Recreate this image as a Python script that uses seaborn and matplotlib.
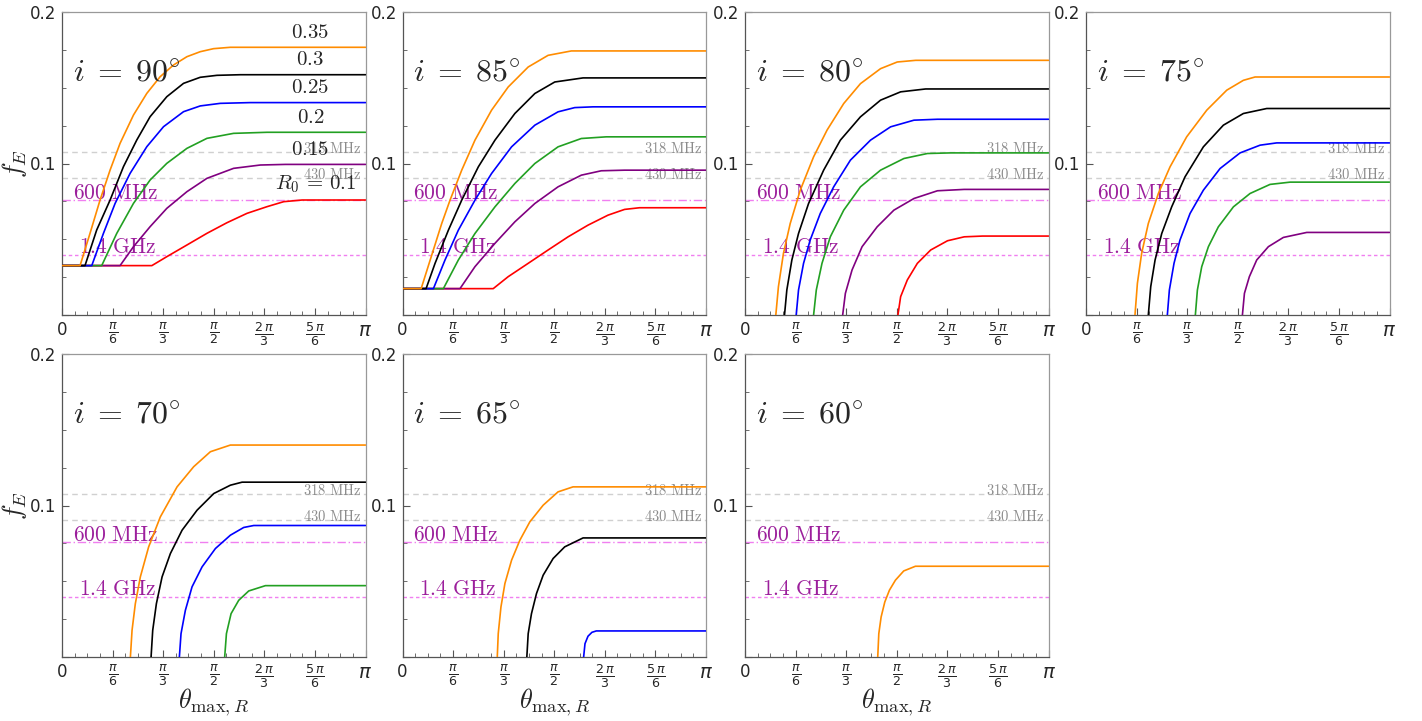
import numpy as np
import matplotlib
matplotlib.use('Agg')
import matplotlib.pyplot as plt
import seaborn as sns

PI = np.pi

inclinations = [90, 85, 80, 75, 70, 65, 60]
R0_values = [0.1, 0.15, 0.2, 0.25, 0.3, 0.35]
R0_labels = [r'$R_0\,=\,0.1$', r'$0.15$', r'$0.2$', r'$0.25$', r'$0.3$', r'$0.35$']
R0_colors = ['red', 'purple', '#22a022', 'blue', 'black', 'darkorange']

freq_names = ['318 MHz', '430 MHz', '600 MHz', '1.4 GHz']
freq_fE = [0.1075, 0.0901, 0.0759, 0.0396]

xtick_vals = [0, PI / 6, PI / 3, PI / 2, 2 * PI / 3, 5 * PI / 6, PI]
xtick_labels = ['0', r'$\frac{\pi}{6}$', r'$\frac{\pi}{3}$', r'$\frac{\pi}{2}$',
                r'$\frac{2\,\pi}{3}$', r'$\frac{5\,\pi}{6}$', r'$\pi$']

# ---- i = 90 ----
i90_r10_t = [0, 0.930, 1.085, 1.293, 1.500, 1.707, 1.915, 2.122, 2.295, 2.485, PI]
i90_r10_f = [0.0326, 0.0326, 0.0385, 0.0462, 0.0539, 0.0609, 0.0671, 0.0715, 0.0748, 0.0759, 0.0759]
i90_r15_t = [0, 0.601, 0.740, 0.912, 1.085, 1.293, 1.500, 1.776, 2.053, 2.312, PI]
i90_r15_f = [0.0326, 0.0326, 0.0451, 0.0583, 0.0704, 0.0814, 0.0902, 0.0968, 0.0990, 0.0994, 0.0994]
i90_r20_t = [0, 0.411, 0.567, 0.740, 0.912, 1.085, 1.293, 1.500, 1.776, 2.122, PI]
i90_r20_f = [0.0326, 0.0326, 0.0539, 0.0737, 0.0891, 0.1001, 0.1100, 0.1166, 0.1199, 0.1206, 0.1206]
i90_r25_t = [0, 0.308, 0.429, 0.550, 0.705, 0.878, 1.051, 1.258, 1.431, 1.638, 1.949, PI]
i90_r25_f = [0.0326, 0.0326, 0.0539, 0.0737, 0.0935, 0.1111, 0.1243, 0.1342, 0.1380, 0.1397, 0.1402, 0.1402]
i90_r30_t = [0, 0.238, 0.359, 0.498, 0.636, 0.774, 0.912, 1.085, 1.258, 1.431, 1.604, 1.846, PI]
i90_r30_f = [0.0326, 0.0326, 0.0561, 0.0759, 0.0979, 0.1155, 0.1309, 0.1441, 0.1529, 0.1569, 0.1582, 0.1586, 0.1586]
i90_r35_t = [0, 0.187, 0.290, 0.394, 0.498, 0.601, 0.740, 0.878, 1.016, 1.154, 1.293, 1.431, 1.569, 1.742, PI]
i90_r35_f = [0.0326, 0.0326, 0.0539, 0.0759, 0.0957, 0.1133, 0.1320, 0.1463, 0.1573, 0.1650, 0.1705, 0.1738, 0.1758, 0.1767, 0.1767]

# ---- i = 85 ----
i85_r10_t = [0, 0.939, 1.094, 1.301, 1.507, 1.714, 1.920, 2.127, 2.299, 2.454, PI]
i85_r10_f = [0.0174, 0.0174, 0.0253, 0.0341, 0.0429, 0.0516, 0.0593, 0.0659, 0.0697, 0.0708, 0.0708]
i85_r15_t = [0, 0.595, 0.750, 0.957, 1.163, 1.370, 1.610, 1.851, 2.058, 2.299, PI]
i85_r15_f = [0.0174, 0.0174, 0.0319, 0.0473, 0.0615, 0.0736, 0.0846, 0.0923, 0.0952, 0.0956, 0.0956]
i85_r20_t = [0, 0.423, 0.578, 0.750, 0.957, 1.163, 1.370, 1.610, 1.851, 2.109, PI]
i85_r20_f = [0.0174, 0.0174, 0.0363, 0.0538, 0.0714, 0.0868, 0.1000, 0.1110, 0.1165, 0.1176, 0.1176]
i85_r25_t = [0, 0.320, 0.440, 0.578, 0.750, 0.922, 1.129, 1.370, 1.610, 1.783, 1.972, PI]
i85_r25_f = [0.0174, 0.0174, 0.0363, 0.0560, 0.0758, 0.0934, 0.1110, 0.1253, 0.1341, 0.1369, 0.1374, 0.1374]
i85_r30_t = [0, 0.244, 0.337, 0.475, 0.613, 0.785, 0.957, 1.163, 1.370, 1.576, 1.869, PI]
i85_r30_f = [0.0174, 0.0174, 0.0341, 0.0560, 0.0758, 0.0978, 0.1154, 0.1330, 0.1462, 0.1538, 0.1565, 0.1565]
i85_r35_t = [0, 0.193, 0.303, 0.406, 0.492, 0.613, 0.750, 0.922, 1.094, 1.301, 1.507, 1.748, PI]
i85_r35_f = [0.0174, 0.0174, 0.0396, 0.0604, 0.0758, 0.0956, 0.1154, 0.1352, 0.1505, 0.1637, 0.1714, 0.1743, 0.1743]

# ---- i = 80 ----
i80_r10_t = [1.583, 1.611, 1.680, 1.784, 1.922, 2.096, 2.269, 2.459, PI]
i80_r10_f = [0, 0.0121, 0.0231, 0.0341, 0.0429, 0.0490, 0.0516, 0.0521, 0.0521]
i80_r15_t = [1.011, 1.039, 1.108, 1.212, 1.368, 1.541, 1.749, 1.992, 2.269, PI]
i80_r15_f = [0, 0.0143, 0.0297, 0.0451, 0.0582, 0.0692, 0.0769, 0.0820, 0.0829, 0.0829]
i80_r20_t = [0.710, 0.738, 0.797, 0.883, 1.022, 1.195, 1.403, 1.645, 1.888, 2.130, PI]
i80_r20_f = [0, 0.0165, 0.0341, 0.0516, 0.0692, 0.0846, 0.0956, 0.1033, 0.1066, 0.1070, 0.1070]
i80_r25_t = [0.530, 0.554, 0.606, 0.675, 0.779, 0.918, 1.091, 1.299, 1.507, 1.749, 1.992, PI]
i80_r25_f = [0, 0.0165, 0.0341, 0.0495, 0.0670, 0.0846, 0.1022, 0.1154, 0.1242, 0.1286, 0.1292, 0.1292]
i80_r30_t = [0.409, 0.433, 0.485, 0.554, 0.658, 0.814, 0.987, 1.195, 1.403, 1.611, 1.870, PI]
i80_r30_f = [0, 0.0165, 0.0363, 0.0538, 0.0736, 0.0956, 0.1154, 0.1308, 0.1418, 0.1473, 0.1492, 0.1492]
i80_r35_t = [0.319, 0.346, 0.398, 0.468, 0.572, 0.710, 0.849, 1.022, 1.195, 1.403, 1.576, 1.767, PI]
i80_r35_f = [0, 0.0187, 0.0407, 0.0604, 0.0824, 0.1044, 0.1220, 0.1396, 0.1527, 0.1626, 0.1670, 0.1681, 0.1681]

# ---- i = 75 ----
i75_r15_t = [1.619, 1.640, 1.691, 1.767, 1.888, 2.043, 2.285, PI]
i75_r15_f = [0, 0.0143, 0.0253, 0.0363, 0.0451, 0.0512, 0.0545, 0.0545]
i75_r20_t = [1.132, 1.153, 1.198, 1.267, 1.370, 1.526, 1.698, 1.905, 2.113, PI]
i75_r20_f = [0, 0.0165, 0.0319, 0.0451, 0.0582, 0.0714, 0.0802, 0.0862, 0.0877, 0.0877]
i75_r25_t = [0.842, 0.863, 0.911, 0.973, 1.077, 1.215, 1.388, 1.595, 1.802, 1.974, PI]
i75_r25_f = [0, 0.0165, 0.0341, 0.0495, 0.0670, 0.0824, 0.0967, 0.1070, 0.1121, 0.1136, 0.1136]
i75_r30_t = [0.645, 0.670, 0.715, 0.784, 0.887, 1.025, 1.215, 1.422, 1.629, 1.871, PI]
i75_r30_f = [0, 0.0187, 0.0363, 0.0538, 0.0714, 0.0912, 0.1110, 0.1253, 0.1330, 0.1363, 0.1363]
i75_r35_t = [0.507, 0.532, 0.576, 0.645, 0.749, 0.870, 1.042, 1.250, 1.457, 1.629, 1.750, PI]
i75_r35_f = [0, 0.0209, 0.0407, 0.0604, 0.0802, 0.0978, 0.1176, 0.1352, 0.1484, 0.1549, 0.1571, 0.1571]

# ---- i = 70 ----
i70_r20_t = [1.684, 1.702, 1.750, 1.829, 1.933, 2.106, PI]
i70_r20_f = [0, 0.0154, 0.0286, 0.0374, 0.0436, 0.0471, 0.0471]
i70_r25_t = [1.215, 1.232, 1.277, 1.346, 1.450, 1.588, 1.743, 1.881, 1.985, PI]
i70_r25_f = [0, 0.0154, 0.0308, 0.0463, 0.0595, 0.0716, 0.0804, 0.0855, 0.0868, 0.0868]
i70_r30_t = [0.922, 0.939, 0.977, 1.036, 1.122, 1.243, 1.398, 1.571, 1.743, 1.864, PI]
i70_r30_f = [0, 0.0176, 0.0352, 0.0529, 0.0683, 0.0837, 0.0969, 0.1079, 0.1134, 0.1154, 0.1154]
i70_r35_t = [0.708, 0.725, 0.759, 0.811, 0.897, 1.018, 1.191, 1.363, 1.536, 1.743, PI]
i70_r35_f = [0, 0.0176, 0.0352, 0.0529, 0.0727, 0.0925, 0.1123, 0.1256, 0.1355, 0.1399, 0.1399]

# ---- i = 65 ----
i65_r25_t = [1.875, 1.889, 1.920, 1.961, 2.006, PI]
i65_r25_f = [0, 0.0088, 0.0137, 0.0163, 0.0172, 0.0172]
i65_r30_t = [1.287, 1.301, 1.335, 1.387, 1.456, 1.559, 1.679, 1.869, PI]
i65_r30_f = [0, 0.0154, 0.0286, 0.0419, 0.0540, 0.0650, 0.0727, 0.0786, 0.0786]
i65_r35_t = [0.981, 0.991, 1.019, 1.060, 1.129, 1.215, 1.318, 1.456, 1.610, 1.765, PI]
i65_r35_f = [0, 0.0154, 0.0330, 0.0485, 0.0639, 0.0771, 0.0892, 0.1002, 0.1090, 0.1123, 0.1123]

# ---- i = 60 ----
i60_r35_t = [1.374, 1.385, 1.409, 1.447, 1.495, 1.557, 1.643, 1.764, PI]
i60_r35_f = [0, 0.0154, 0.0264, 0.0363, 0.0441, 0.0507, 0.0568, 0.0599, 0.0599]

panel_curves = {
    90: {0.1: (i90_r10_t, i90_r10_f), 0.15: (i90_r15_t, i90_r15_f), 0.2: (i90_r20_t, i90_r20_f),
         0.25: (i90_r25_t, i90_r25_f), 0.3: (i90_r30_t, i90_r30_f), 0.35: (i90_r35_t, i90_r35_f)},
    85: {0.1: (i85_r10_t, i85_r10_f), 0.15: (i85_r15_t, i85_r15_f), 0.2: (i85_r20_t, i85_r20_f),
         0.25: (i85_r25_t, i85_r25_f), 0.3: (i85_r30_t, i85_r30_f), 0.35: (i85_r35_t, i85_r35_f)},
    80: {0.1: (i80_r10_t, i80_r10_f), 0.15: (i80_r15_t, i80_r15_f), 0.2: (i80_r20_t, i80_r20_f),
         0.25: (i80_r25_t, i80_r25_f), 0.3: (i80_r30_t, i80_r30_f), 0.35: (i80_r35_t, i80_r35_f)},
    75: {0.15: (i75_r15_t, i75_r15_f), 0.2: (i75_r20_t, i75_r20_f), 0.25: (i75_r25_t, i75_r25_f),
         0.3: (i75_r30_t, i75_r30_f), 0.35: (i75_r35_t, i75_r35_f)},
    70: {0.2: (i70_r20_t, i70_r20_f), 0.25: (i70_r25_t, i70_r25_f), 0.3: (i70_r30_t, i70_r30_f),
         0.35: (i70_r35_t, i70_r35_f)},
    65: {0.25: (i65_r25_t, i65_r25_f), 0.3: (i65_r30_t, i65_r30_f), 0.35: (i65_r35_t, i65_r35_f)},
    60: {0.35: (i60_r35_t, i60_r35_f)},
}

sns.set_style('ticks')
plt.rcParams['font.family'] = ['DejaVu Sans']
plt.rcParams['mathtext.fontset'] = 'cm'

fig = plt.figure(figsize=(14.22, 7.21), dpi=100)
W, H = 1422.0, 721.0
col_left = [62, 402.5, 745, 1086]
row_top = [12, 354]
ax_w, ax_h = 303.5, 303

freq_line_color = ['#d0d0d0', '#d0d0d0', '#f07ff0', '#f07ff0']
freq_line_style = [(0, (4, 3)), (0, (4, 3)), (0, (6, 2, 1, 2)), (0, (2.5, 2))]
gray_txt = '#8c8c8c'
mag = '#9c1f9c'

for k, inc in enumerate(inclinations):
    r, c = divmod(k, 4)
    ax = fig.add_axes([col_left[c] / W, 1 - (row_top[r] + ax_h) / H, ax_w / W, ax_h / H])
    # reference frequency lines
    for j in range(4):
        ax.axhline(freq_fE[j], color=freq_line_color[j], ls=freq_line_style[j], lw=1.0, zorder=1)
    ax.text(0.987, freq_fE[0] - 0.0005, r'$\mathrm{318\ MHz}$', transform=ax.get_yaxis_transform(),
            ha='right', va='baseline', color=gray_txt, fontsize=10.5)
    ax.text(0.987, freq_fE[1] - 0.0005, r'$\mathrm{430\ MHz}$', transform=ax.get_yaxis_transform(),
            ha='right', va='baseline', color=gray_txt, fontsize=10.5)
    ax.text(0.036, freq_fE[2] + 0.0008, r'$\mathrm{600\ MHz}$', transform=ax.get_yaxis_transform(),
            ha='left', va='baseline', color=mag, fontsize=15.5)
    ax.text(0.055, freq_fE[3] + 0.0012, r'$\mathrm{1.4\ GHz}$', transform=ax.get_yaxis_transform(),
            ha='left', va='baseline', color=mag, fontsize=15.5)

    for R0, col in zip(R0_values, R0_colors):
        if R0 in panel_curves[inc]:
            t, f = panel_curves[inc][R0]
            sns.lineplot(x=t, y=f, color=col, lw=1.2, ax=ax, sort=False, estimator=None, zorder=3)

    if inc == 90:
        for R0, lab in zip(R0_values, R0_labels):
            t, f = panel_curves[90][R0]
            xpos = 2.62 if R0 == 0.1 else 2.57
            ax.text(xpos, f[-1] + 0.0035, lab, ha='center', va='bottom', fontsize=15, zorder=4)

    ax.text(0.035, 0.80, r'$i\;=\;%d^{\circ}$' % inc, transform=ax.transAxes,
            ha='left', va='center', fontsize=23)

    ax.set_xlim(0, PI)
    ax.set_ylim(0, 0.2)
    ax.set_xticks(xtick_vals)
    ax.set_xticks(np.arange(0, PI + 1e-9, PI / 24), minor=True)
    ax.set_yticks([0, 0.1, 0.2])
    ax.set_yticks(np.arange(0, 0.2001, 0.025), minor=True)
    ax.set_yticklabels(['', '0.1', '0.2'], fontsize=12)
    xl = ax.set_xticklabels(xtick_labels, fontsize=13)
    for lbl in xl:
        lbl.set_math_fontfamily('dejavusans')
    xl[-1].set_fontsize(14)
    xl[0].set_fontsize(12)
    ax.tick_params(which='both', direction='in', top=False, right=False, color='#555555')
    ax.tick_params(which='major', length=5, width=0.8, pad=4)
    ax.tick_params(which='minor', length=3, width=0.6)
    for s in ['left', 'bottom']:
        ax.spines[s].set_color('#555555')
        ax.spines[s].set_linewidth(0.9)
    for s in ['top', 'right']:
        ax.spines[s].set_color('#999999')
        ax.spines[s].set_linewidth(0.9)
    ax.set_xlabel('')
    ax.set_ylabel('')
    if c == 0:
        ax.set_ylabel(r'$f_E$', fontsize=19, va='center')
        ax.yaxis.set_label_coords(-0.158, 0.5)
    if r == 1:
        ax.set_xlabel(r'$\theta_{\max,R}$', fontsize=19, va='center')
        ax.xaxis.set_label_coords(0.5, -0.148)

fig.savefig('out.png', dpi=100)
